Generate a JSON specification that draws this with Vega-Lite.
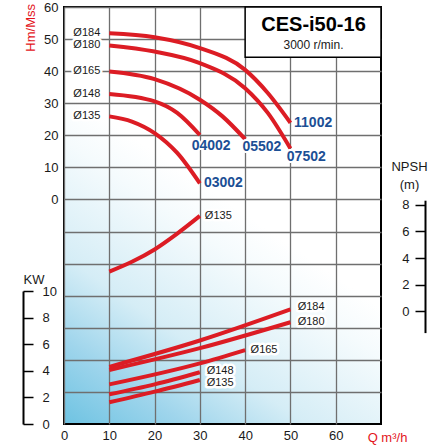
{
  "$schema": "https://vega.github.io/schema/vega-lite/v6.json",
  "width": 317,
  "height": 417,
  "autosize": {"type": "none"},
  "padding": {"left": 64, "top": 7, "right": 67, "bottom": 24},
  "background": "white",
  "config": {
    "font": "Liberation Sans",
    "view": {
      "stroke": "black",
      "strokeWidth": 2,
      "fill": {
        "gradient": "linear", "x1": 0, "y1": 1, "x2": 0.33, "y2": 0.37,
        "stops": [
          {"offset": 0, "color": "#6ec3e2"},
          {"offset": 0.25, "color": "#9fd5ec"},
          {"offset": 0.35, "color": "#b5dff0"},
          {"offset": 0.5, "color": "#d5edf6"},
          {"offset": 0.65, "color": "#e3f3f9"},
          {"offset": 0.85, "color": "#f5fbfd"},
          {"offset": 1, "color": "#ffffff"}
        ]
      }
    },
    "axis": {
      "labelColor": "#1a1a1a",
      "labelFontSize": 13,
      "titleFontWeight": "normal",
      "gridColor": "#6f6f6f",
      "gridWidth": 1.3,
      "gridOpacity": 1
    }
  },
  "datasets": {
    "head": [
      {"d": "Ø184", "q": 10, "h": 51.8}, {"d": "Ø184", "q": 20, "h": 50.6}, {"d": "Ø184", "q": 30, "h": 47.2},
      {"d": "Ø184", "q": 40, "h": 40.4}, {"d": "Ø184", "q": 45, "h": 33.2}, {"d": "Ø184", "q": 50, "h": 23.9},
      {"d": "Ø180", "q": 10, "h": 48.0}, {"d": "Ø180", "q": 20, "h": 46.1}, {"d": "Ø180", "q": 30, "h": 42.5},
      {"d": "Ø180", "q": 40, "h": 34.7}, {"d": "Ø180", "q": 45, "h": 27.0}, {"d": "Ø180", "q": 50, "h": 15.9},
      {"d": "Ø165", "q": 10, "h": 39.9}, {"d": "Ø165", "q": 20, "h": 37.5}, {"d": "Ø165", "q": 30, "h": 31.1},
      {"d": "Ø165", "q": 35, "h": 25.9}, {"d": "Ø165", "q": 40, "h": 18.8},
      {"d": "Ø148", "q": 10, "h": 32.9}, {"d": "Ø148", "q": 20, "h": 30.6}, {"d": "Ø148", "q": 25, "h": 27.0},
      {"d": "Ø148", "q": 30, "h": 20.1},
      {"d": "Ø135", "q": 10, "h": 25.9}, {"d": "Ø135", "q": 15, "h": 24.3}, {"d": "Ø135", "q": 20, "h": 20.7},
      {"d": "Ø135", "q": 25, "h": 14.5}, {"d": "Ø135", "q": 30, "h": 5.0}
    ],
    "models": [
      {"model": "11002", "q": 50.8, "h": 23.7},
      {"model": "07502", "q": 49.2, "h": 13.2},
      {"model": "05502", "q": 39.4, "h": 16.2},
      {"model": "04002", "q": 28.2, "h": 16.7},
      {"model": "03002", "q": 30.9, "h": 5.0}
    ],
    "power": [
      {"d": "Ø184", "q": 10, "kw": 4.3}, {"d": "Ø184", "q": 30, "kw": 6.28}, {"d": "Ø184", "q": 50, "kw": 8.62},
      {"d": "Ø180", "q": 10, "kw": 4.06}, {"d": "Ø180", "q": 30, "kw": 5.7}, {"d": "Ø180", "q": 50, "kw": 7.65},
      {"d": "Ø165", "q": 10, "kw": 2.98}, {"d": "Ø165", "q": 30, "kw": 4.56}, {"d": "Ø165", "q": 40, "kw": 5.56},
      {"d": "Ø148", "q": 10, "kw": 2.23}, {"d": "Ø148", "q": 20, "kw": 2.98}, {"d": "Ø148", "q": 30, "kw": 3.89},
      {"d": "Ø135", "q": 10, "kw": 1.63}, {"d": "Ø135", "q": 20, "kw": 2.43}, {"d": "Ø135", "q": 30, "kw": 3.31}
    ],
    "powerLabels": [
      {"d": "Ø184", "q": 51.6, "kw": 8.8},
      {"d": "Ø180", "q": 51.6, "kw": 7.67},
      {"d": "Ø165", "q": 41.2, "kw": 5.53},
      {"d": "Ø148", "q": 31.5, "kw": 4.0},
      {"d": "Ø135", "q": 31.5, "kw": 3.05}
    ],
    "npsh": [
      {"d": "Ø135", "q": 10, "m": 2.98}, {"d": "Ø135", "q": 15, "m": 3.72}, {"d": "Ø135", "q": 20, "m": 4.65},
      {"d": "Ø135", "q": 25, "m": 5.84}, {"d": "Ø135", "q": 30, "m": 7.17}
    ]
  },
  "layer": [
    {
      "encoding": {
        "x": {
          "field": "q", "type": "quantitative",
          "scale": {"domain": [0, 70], "nice": false},
          "axis": {
            "values": [0, 10, 20, 30, 40, 50, 60], "grid": true, "ticks": false, "domain": false,
            "labelFlush": false, "labelPadding": 5,
            "title": "Q m³/h", "titleColor": "#e3141b", "titleFontSize": 13,
            "titleX": 323, "titleY": 17, "titleAlign": "center", "titleBaseline": "alphabetic"
          }
        },
        "y": {
          "field": "h", "type": "quantitative",
          "scale": {"domain": [-70, 60], "nice": false},
          "axis": {
            "values": [-60, -50, -40, -30, -20, -10, 0, 10, 20, 30, 40, 50, 60],
            "labelExpr": "datum.value >= 0 ? datum.label : ''",
            "labelOverlap": false,
            "grid": true, "ticks": false, "domain": false, "labelPadding": 6,
            "title": "Hm/Mss", "titleColor": "#e3141b", "titleFontSize": 13, "titleAngle": -90,
            "titleX": -29.5, "titleY": -3.5, "titleAlign": "right", "titleBaseline": "alphabetic"
          }
        }
      },
      "layer": [
        {
          "data": {"name": "head"},
          "mark": {"type": "line", "color": "#dc1c24", "strokeWidth": 4, "interpolate": "monotone"},
          "encoding": {"detail": {"field": "d"}}
        },
        {
          "data": {"values": [{"q": 40, "q2": 70, "h": 44.3, "h2": 60}]},
          "mark": {"type": "rect", "fill": "white", "stroke": "black", "strokeWidth": 1.5},
          "encoding": {"x2": {"field": "q2"}, "y2": {"field": "h2"}}
        },
        {
          "data": {"values": [{"q": 55.1, "h": 54.4, "t": "CES-i50-16"}]},
          "mark": {"type": "text", "fontSize": 20, "fontWeight": "bold", "color": "black", "baseline": "middle"},
          "encoding": {"text": {"field": "t"}}
        },
        {
          "data": {"values": [{"q": 55.1, "h": 48.2, "t": "3000 r/min."}]},
          "mark": {"type": "text", "fontSize": 12, "color": "#1a1a1a", "baseline": "middle"},
          "encoding": {"text": {"field": "t"}}
        },
        {
          "data": {"name": "head"},
          "transform": [{"filter": "datum.q == 10"}],
          "mark": {"type": "text", "fontSize": 11, "align": "right", "baseline": "middle", "dx": -9,
                   "fill": "white", "stroke": "white", "strokeWidth": 5, "strokeJoin": "round"},
          "encoding": {"text": {"field": "d"}}
        },
        {
          "data": {"name": "head"},
          "transform": [{"filter": "datum.q == 10"}],
          "mark": {"type": "text", "fontSize": 11, "align": "right", "baseline": "middle", "dx": -9, "color": "#1a1a1a"},
          "encoding": {"text": {"field": "d"}}
        },
        {
          "data": {"name": "models"},
          "mark": {"type": "text", "fontSize": 14, "fontWeight": "bold", "align": "left", "baseline": "middle",
                   "fill": "white", "stroke": "white", "strokeWidth": 4, "strokeJoin": "round"},
          "encoding": {"text": {"field": "model"}}
        },
        {
          "data": {"name": "models"},
          "mark": {"type": "text", "fontSize": 14, "fontWeight": "bold", "align": "left", "baseline": "middle", "color": "#1c4f95"},
          "encoding": {"text": {"field": "model"}}
        }
      ]
    },
    {
      "encoding": {
        "x": {"field": "q", "type": "quantitative"},
        "y": {
          "field": "kw", "type": "quantitative",
          "scale": {"domain": [0, 10], "range": [417, 284], "nice": false},
          "axis": {
            "orient": "right", "offset": -358, "values": [0, 2, 4, 6, 8, 10], "grid": false,
            "tickSize": 10, "tickColor": "black", "tickWidth": 1.5,
            "domainColor": "black", "domainWidth": 2, "labelPadding": 9, "labelOverlap": false,
            "title": "KW", "titleAngle": 0, "titleX": 0, "titleY": 276, "titleAlign": "left",
            "titleBaseline": "alphabetic", "titleFontSize": 13, "titleColor": "#1a1a1a"
          }
        }
      },
      "layer": [
        {
          "data": {"name": "power"},
          "mark": {"type": "line", "color": "#dc1c24", "strokeWidth": 4, "interpolate": "monotone"},
          "encoding": {"detail": {"field": "d"}}
        },
        {
          "data": {"name": "powerLabels"},
          "mark": {"type": "text", "fontSize": 11, "align": "left", "baseline": "middle",
                   "fill": "white", "stroke": "white", "strokeWidth": 5, "strokeJoin": "round"},
          "encoding": {"text": {"field": "d"}}
        },
        {
          "data": {"name": "powerLabels"},
          "mark": {"type": "text", "fontSize": 11, "align": "left", "baseline": "middle", "color": "#1a1a1a"},
          "encoding": {"text": {"field": "d"}}
        }
      ]
    },
    {
      "encoding": {
        "x": {"field": "q", "type": "quantitative"},
        "y": {
          "field": "m", "type": "quantitative",
          "scale": {"domain": [-1.6, 8.35], "range": [325.6, 193.2], "nice": false, "zero": false},
          "axis": {
            "orient": "left", "offset": -361, "values": [0, 2, 4, 6, 8], "grid": false,
            "tickSize": 10, "tickColor": "black", "tickWidth": 1.5,
            "domainColor": "black", "domainWidth": 2, "labelPadding": 6, "labelOverlap": false,
            "title": ["NPSH", "(m)"], "titleAngle": 0, "titleX": -16, "titleY": 163,
            "titleAlign": "center", "titleBaseline": "alphabetic", "titleLineHeight": 18,
            "titleFontSize": 13, "titleColor": "#1a1a1a"
          }
        }
      },
      "layer": [
        {
          "data": {"name": "npsh"},
          "mark": {"type": "line", "color": "#dc1c24", "strokeWidth": 4, "interpolate": "monotone"}
        },
        {
          "data": {"name": "npsh"},
          "transform": [{"filter": "datum.q == 30"}],
          "mark": {"type": "text", "fontSize": 11, "align": "left", "baseline": "middle", "dx": 5,
                   "fill": "white", "stroke": "white", "strokeWidth": 5, "strokeJoin": "round"},
          "encoding": {"text": {"field": "d"}}
        },
        {
          "data": {"name": "npsh"},
          "transform": [{"filter": "datum.q == 30"}],
          "mark": {"type": "text", "fontSize": 11, "align": "left", "baseline": "middle", "dx": 5, "color": "#1a1a1a"},
          "encoding": {"text": {"field": "d"}}
        }
      ]
    }
  ],
  "resolve": {"scale": {"y": "independent"}, "axis": {"y": "independent"}}
}
